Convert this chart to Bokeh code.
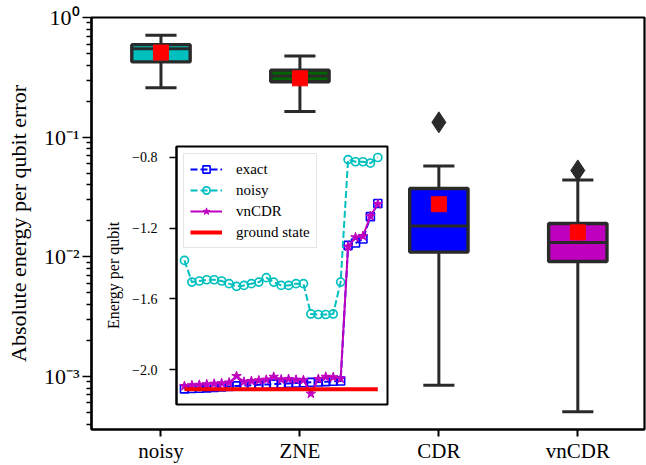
import numpy as np
from bokeh.plotting import figure
from bokeh.models import (Range1d, FixedTicker, ColumnDataSource, Legend, LegendItem,
                          CustomJSTickFormatter)
from bokeh.layouts import column
from bokeh.embed import file_html
from bokeh.resources import INLINE

# ---------------- main box-plot data ----------------
methods = ["noisy", "ZNE", "CDR", "vnCDR"]
box_colors = ["#00bfbf", "#006400", "#0000ff", "#bf00bf"]
whisker_low = [0.259, 0.164, 0.000845, 0.000507]
q1 = [0.426, 0.290, 0.01094, 0.00914]
median = [0.548, 0.324, 0.0181, 0.01315]
q3 = [0.593, 0.363, 0.0372, 0.0190]
whisker_high = [0.710, 0.477, 0.0573, 0.0438]
means = [0.509, 0.310, 0.0275, 0.0160]
outlier_method = ["CDR", "vnCDR"]
outlier_value = [0.133, 0.0527]

y_tick_values = [1e-3, 1e-2, 1e-1, 1.0]
y_tick_labels = ["10⁻³", "10⁻²", "10⁻¹", "10⁰"]

# ---------------- inset data ----------------
state_index = list(range(27))
exact_energy = [-2.108, -2.106, -2.104, -2.102, -2.100, -2.097, -2.094, -2.091, -2.089,
                -2.087, -2.085, -2.083, -2.081, -2.079, -2.077, -2.075, -2.073, -2.071,
                -2.069, -2.067, -2.065, -2.063, -1.298, -1.285, -1.262, -1.136, -1.062]
noisy_energy = [-1.383, -1.505, -1.499, -1.492, -1.492, -1.499, -1.514, -1.529, -1.524,
                -1.514, -1.505, -1.480, -1.505, -1.524, -1.524, -1.514, -1.514, -1.685,
                -1.688, -1.688, -1.685, -1.505, -0.814, -0.826, -0.826, -0.834, -0.802]
vncdr_energy = [-2.092, -2.088, -2.085, -2.082, -2.079, -2.076, -2.072, -2.036, -2.068,
                -2.064, -2.060, -2.056, -2.040, -2.055, -2.052, -2.056, -2.058, -2.135,
                -2.052, -2.040, -2.042, -2.050, -1.305, -1.253, -1.246, -1.133, -1.065]
ground_energy = -2.11
inset_tick_values = [-2.0, -1.6, -1.2, -0.8]
inset_tick_labels = ["−2.0", "−1.6", "−1.2", "−0.8"]

FONT = "Liberation Serif"
DARK = "#2a2a2a"

lookup_code = """
for (let i = 0; i < vals.length; i++) {
    if (Math.abs(tick - vals[i]) <= 1e-6 * Math.abs(vals[i])) { return labs[i]; }
}
return "";
"""

# ---------------- main figure ----------------
pos = np.arange(len(methods), dtype=float)
p = figure(width=686, height=465, y_axis_type="log",
           x_range=Range1d(-0.5, 3.48), y_range=Range1d(3.6e-4, 1.0),
           output_backend="svg", toolbar_location=None,
           min_border_left=111, min_border_right=0, min_border_top=17, min_border_bottom=33)
p.background_fill_color = "white"
p.border_fill_color = "white"
p.xgrid.visible = False
p.ygrid.visible = False
p.outline_line_color = "black"
p.outline_line_width = 2.2
p.outline_line_alpha = 1.0

box_w = 0.42
cap_half = 0.112
src = ColumnDataSource(dict(x=pos, lo=whisker_low, q1=q1, med=median, q3=q3, hi=whisker_high,
                            mean=means, color=box_colors,
                            cl=pos - cap_half, cr=pos + cap_half,
                            bl=pos - box_w / 2, br=pos + box_w / 2))
p.segment(x0="x", y0="q3", x1="x", y1="hi", source=src, line_color=DARK, line_width=3)
p.segment(x0="x", y0="q1", x1="x", y1="lo", source=src, line_color=DARK, line_width=3)
p.segment(x0="cl", y0="hi", x1="cr", y1="hi", source=src, line_color=DARK, line_width=3)
p.segment(x0="cl", y0="lo", x1="cr", y1="lo", source=src, line_color=DARK, line_width=3)
p.vbar(x="x", width=box_w, bottom="q1", top="q3", source=src,
       fill_color="color", line_color=DARK, line_width=3.4)
p.segment(x0="bl", y0="med", x1="br", y1="med", source=src, line_color=DARK, line_width=3)
p.scatter(x="x", y="mean", source=src, marker="square", size=15,
          fill_color="#ff0000", line_color="#ff0000")
out_x = [methods.index(m) for m in outlier_method]
p.scatter(x=out_x, y=outlier_value, marker="diamond", size=21,
          fill_color=DARK, line_color=DARK)

p.xaxis.ticker = FixedTicker(ticks=list(pos))
p.xaxis.formatter = CustomJSTickFormatter(args=dict(names=methods),
                                          code="return names[Math.round(tick)];")
p.xaxis.major_label_text_font = FONT
p.xaxis.major_label_text_font_size = "21px"
p.xaxis.major_label_text_color = "black"
p.xaxis.major_label_standoff = 2
p.xaxis.major_tick_out = 7
p.xaxis.major_tick_in = 0
p.xaxis.major_tick_line_width = 2
p.xaxis.minor_tick_line_color = None
p.xaxis.axis_line_width = 2.2
p.xaxis.axis_line_color = "black"

minor = [m * 10.0 ** k for k in range(-4, 0) for m in range(2, 10)]
p.yaxis.ticker = FixedTicker(ticks=y_tick_values, minor_ticks=minor)
p.yaxis.formatter = CustomJSTickFormatter(args=dict(vals=y_tick_values, labs=y_tick_labels),
                                          code=lookup_code)
p.yaxis.major_label_text_font = FONT
p.yaxis.major_label_text_font_size = "22px"
p.yaxis.major_label_text_color = "black"
p.yaxis.major_label_standoff = 3
p.yaxis.major_tick_out = 9
p.yaxis.major_tick_in = 0
p.yaxis.minor_tick_out = 5
p.yaxis.minor_tick_in = 0
p.yaxis.major_tick_line_width = 1.6
p.yaxis.minor_tick_line_width = 1.3
p.yaxis.axis_line_width = 2.2
p.yaxis.axis_line_color = "black"
p.yaxis.axis_label = "Absolute energy per qubit error"
p.yaxis.axis_label_text_font = FONT
p.yaxis.axis_label_text_font_size = "22px"
p.yaxis.axis_label_text_font_style = "normal"
p.yaxis.axis_label_text_color = "black"
p.yaxis.axis_label_standoff = 10

# ---------------- inset figure ----------------
ins = figure(width=324, height=262,
             x_range=Range1d(-1.07, 27.3), y_range=Range1d(-2.196, -0.74),
             output_backend="svg", toolbar_location=None,
             min_border_left=110, min_border_right=2, min_border_top=2, min_border_bottom=2)
ins.background_fill_color = "white"
ins.border_fill_alpha = 0
ins.xgrid.visible = False
ins.ygrid.visible = False
ins.outline_line_color = "black"
ins.outline_line_width = 2
ins.outline_line_alpha = 1.0
ins.xaxis.visible = False

r_exact_l = ins.line(state_index, exact_energy, line_color="#0000ff", line_width=2, line_dash="7 3")
r_exact_m = ins.scatter(state_index, exact_energy, marker="square", size=8,
                        fill_color=None, line_color="#0000ff", line_width=1.6)
r_noisy_l = ins.line(state_index, noisy_energy, line_color="#00bfbf", line_width=2, line_dash="7 3")
r_noisy_m = ins.scatter(state_index, noisy_energy, marker="circle", size=8,
                        fill_color=None, line_color="#00bfbf", line_width=1.7)
r_vn_l = ins.line(state_index, vncdr_energy, line_color="#bf00bf", line_width=2)
r_vn_m = ins.scatter(state_index, vncdr_energy, marker="star", size=10,
                     fill_color="#bf00bf", line_color="#bf00bf", line_width=1)
r_gs = ins.line([state_index[0], state_index[-1]], [ground_energy, ground_energy],
                line_color="#ff0000", line_width=4)

legend = Legend(items=[LegendItem(label="exact", renderers=[r_exact_l, r_exact_m]),
                       LegendItem(label="noisy", renderers=[r_noisy_l, r_noisy_m]),
                       LegendItem(label="vnCDR", renderers=[r_vn_l, r_vn_m]),
                       LegendItem(label="ground state", renderers=[r_gs])],
                location="top_left")
legend.label_text_font = FONT
legend.label_text_font_size = "15px"
legend.label_text_color = "black"
legend.glyph_width = 32
legend.glyph_height = 18
legend.label_height = 18
legend.label_standoff = 14
legend.spacing = 3
legend.padding = 6
legend.margin = 7
legend.border_line_color = "#cccccc"
legend.border_line_width = 1
legend.background_fill_alpha = 0.8
ins.add_layout(legend)

ins.yaxis.ticker = FixedTicker(ticks=inset_tick_values)
ins.yaxis.formatter = CustomJSTickFormatter(args=dict(vals=inset_tick_values, labs=inset_tick_labels),
                                            code=lookup_code)
ins.yaxis.major_label_text_font = FONT
ins.yaxis.major_label_text_font_size = "14px"
ins.yaxis.major_label_text_color = "black"
ins.yaxis.major_label_standoff = 12
ins.yaxis.major_tick_out = 7
ins.yaxis.major_tick_in = 0
ins.yaxis.major_tick_line_width = 1.5
ins.yaxis.minor_tick_line_color = None
ins.yaxis.axis_line_width = 2
ins.yaxis.axis_label = "Energy per qubit"
ins.yaxis.axis_label_text_font = FONT
ins.yaxis.axis_label_text_font_size = "16px"
ins.yaxis.axis_label_text_font_style = "normal"
ins.yaxis.axis_label_text_color = "black"
ins.yaxis.axis_label_standoff = 7

p.styles = {"margin-left": "-20px"}
ins.styles = {"position": "absolute", "left": "65px", "top": "144px", "z-index": "2"}

layout = column(p, ins)
open("out.html", "w").write(file_html(layout, INLINE))
